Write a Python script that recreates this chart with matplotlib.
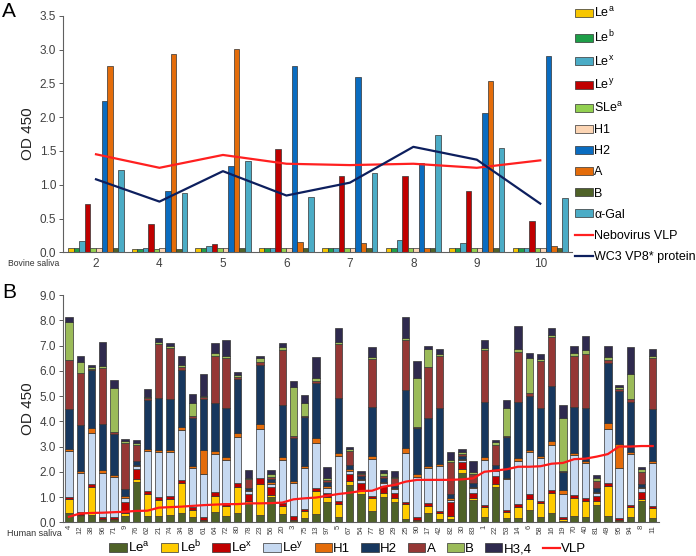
import matplotlib
matplotlib.use("Agg")
import matplotlib.pyplot as plt
import numpy as np

plt.rcParams['font.family'] = ['Liberation Sans', 'DejaVu Sans']
plt.rcParams['mathtext.default'] = 'regular'

# ---------------- Panel A data ----------------
bovine_samples = ['2', '4', '5', '6', '7', '8', '9', '10']
A_lea = [0.06, 0.05, 0.06, 0.07, 0.06, 0.06, 0.06, 0.06]
A_leb = [0.06, 0.05, 0.06, 0.06, 0.06, 0.06, 0.06, 0.06]
A_lex = [0.17, 0.07, 0.09, 0.07, 0.07, 0.18, 0.14, 0.06]
A_ley = [0.72, 0.42, 0.12, 1.53, 1.13, 1.13, 0.91, 0.47]
A_slea = [0.06, 0.05, 0.06, 0.07, 0.07, 0.06, 0.06, 0.06]
A_h1 = [0.07, 0.06, 0.07, 0.07, 0.07, 0.07, 0.07, 0.07]
A_h2 = [2.24, 0.91, 1.28, 2.76, 2.59, 1.32, 2.06, 2.91]
A_a = [2.75, 2.93, 3.01, 0.15, 0.14, 0.07, 2.53, 0.10]
A_b = [0.06, 0.05, 0.06, 0.06, 0.06, 0.06, 0.06, 0.06]
A_agal = [1.22, 0.87, 1.35, 0.82, 1.17, 1.74, 1.54, 0.81]
nebovirus_vlp = [1.45, 1.25, 1.44, 1.31, 1.29, 1.31, 1.25, 1.36]
wc3_vp8 = [1.08, 0.75, 1.20, 0.84, 1.03, 1.56, 1.37, 0.72]

A_names = [r'Le$^{a}$', r'Le$^{b}$', r'Le$^{x}$', r'Le$^{y}$', r'SLe$^{a}$',
           'H1', 'H2', 'A', 'B', 'α-Gal']

# ---------------- Panel B data ----------------
human_samples = ['4', '12', '38', '96', '71', '9', '76', '62', '21', '74', '34', '68',
                 '61', '64', '72', '80', '78', '23', '56', '20', '3', '75', '13', '97',
                 '5', '67', '54', '77', '65', '29', '25', '90', '17', '42', '82', '30',
                 '83', '1', '22', '53', '14', '6', '58', '16', '19', '70', '40', '81',
                 '49', '95', '94', '8', '11']
B_lea = [0.36, 0.25, 0.30, 0.08, 0.08, 0.25, 1.58, 0.25, 0.25, 0.28, 0.36, 0.20,
         0.05, 0.42, 0.25, 0.38, 0.75, 0.27, 1.00, 0.33, 0.05, 0.18, 0.32, 0.80,
         0.22, 1.48, 1.12, 0.45, 1.00, 0.80, 0.15, 0.04, 0.35, 0.12, 0.15, 1.95,
         0.87, 0.20, 1.40, 0.18, 0.18, 0.48, 0.22, 0.35, 0.06, 0.25, 0.22, 0.70,
         0.25, 0.04, 0.22, 0.84, 0.17]
B_leb = [0.55, 0.05, 1.10, 0.06, 0.04, 0.10, 0.12, 0.88, 0.65, 0.65, 1.18, 0.30,
         0.05, 0.64, 0.40, 1.03, 0.10, 1.25, 0.10, 0.32, 0.05, 0.26, 0.93, 0.20,
         0.50, 0.14, 0.14, 0.52, 0.15, 0.15, 0.58, 0.04, 0.30, 0.24, 0.10, 0.17,
         0.08, 0.39, 0.13, 0.22, 0.41, 0.43, 0.53, 0.80, 0.06, 0.71, 0.62, 0.13,
         1.19, 0.05, 0.37, 0.10, 0.41]
B_lex = [0.10, 0.12, 0.12, 0.08, 0.10, 0.45, 0.40, 0.10, 0.10, 0.12, 0.12, 0.10,
         0.10, 0.14, 0.10, 0.13, 0.28, 0.22, 0.30, 0.10, 0.14, 0.08, 0.10, 0.17,
         0.12, 0.30, 0.30, 0.08, 0.30, 0.20, 0.09, 0.14, 0.10, 0.10, 0.55, 0.25,
         0.22, 0.10, 0.30, 0.09, 0.12, 0.21, 0.09, 0.13, 0.08, 0.12, 0.11, 0.20,
         0.10, 0.10, 0.10, 0.24, 0.08]
B_ley = [1.80, 1.55, 2.00, 1.75, 1.56, 0.15, 0.12, 1.58, 1.78, 1.72, 2.00, 1.55,
         1.72, 1.52, 1.72, 1.82, 0.12, 1.95, 0.10, 1.72, 1.30, 1.64, 1.80, 0.18,
         1.80, 0.12, 0.10, 1.47, 0.10, 0.15, 1.94, 1.59, 1.39, 1.77, 0.10, 0.08,
         0.17, 1.78, 0.20, 1.21, 1.72, 1.65, 1.72, 1.78, 0.92, 1.57, 1.39, 0.12,
         2.14, 1.97, 2.01, 0.16, 1.68]
B_h1 = [0.10, 0.08, 0.20, 0.12, 0.10, 0.08, 0.06, 0.10, 0.10, 0.11, 0.10, 0.06,
        0.95, 0.10, 0.12, 0.16, 0.04, 0.20, 0.08, 0.13, 0.10, 0.07, 0.20, 0.08,
        0.10, 0.06, 0.06, 0.11, 0.05, 0.05, 0.20, 0.10, 0.09, 0.08, 0.06, 0.06,
        0.06, 0.13, 0.07, 0.04, 0.13, 0.09, 0.08, 0.16, 0.16, 0.11, 0.09, 0.05,
        0.26, 0.94, 0.10, 0.06, 0.09]
B_h2 = [1.58, 1.80, 2.30, 1.80, 1.62, 0.30, 0.14, 1.95, 2.05, 2.02, 2.28, 1.92,
        2.03, 1.90, 1.93, 2.14, 0.08, 2.35, 0.12, 2.04, 1.68, 1.93, 2.18, 0.15,
        2.20, 0.17, 0.10, 1.92, 0.15, 0.10, 2.28, 1.81, 1.89, 2.20, 0.16, 0.10,
        0.14, 2.15, 0.17, 1.62, 2.19, 2.14, 1.90, 2.19, 0.70, 1.82, 2.08, 0.14,
        2.38, 2.11, 1.98, 0.10, 2.04]
B_a = [1.94, 2.05, 0.04, 2.20, 0.06, 1.80, 0.65, 0.05, 2.13, 2.02, 0.12, 0.06,
       0.06, 1.88, 2.00, 0.08, 0.33, 0.10, 0.10, 2.18, 0.10, 0.05, 0.07, 0.10,
       2.12, 0.55, 0.08, 1.90, 0.10, 0.30, 1.96, 0.07, 2.04, 2.07, 1.25, 0.10,
       0.37, 2.07, 0.80, 0.06, 2.00, 0.13, 1.85, 1.91, 0.07, 2.00, 2.15, 0.31,
       0.10, 0.08, 0.09, 0.50, 2.02]
B_b = [1.49, 0.45, 0.07, 0.08, 1.74, 0.08, 0.07, 0.06, 0.08, 0.06, 0.08, 0.55,
       0.06, 0.12, 0.08, 0.08, 0.05, 0.15, 0.10, 0.11, 1.92, 0.53, 0.10, 0.08,
       0.09, 0.08, 0.05, 0.08, 0.12, 0.06, 0.08, 1.94, 0.70, 0.07, 0.10, 0.06,
       0.09, 0.09, 0.10, 1.12, 0.11, 1.39, 0.06, 0.09, 2.07, 0.11, 0.16, 0.09,
       0.11, 0.06, 0.99, 0.12, 0.09]
B_h34 = [0.20, 0.22, 0.10, 0.98, 0.32, 0.08, 0.10, 0.30, 0.16, 0.10, 0.33, 0.33,
         0.85, 0.36, 0.62, 0.12, 0.32, 0.11, 0.17, 0.18, 0.25, 0.30, 0.83, 0.42,
         0.55, 0.09, 0.08, 0.42, 0.10, 0.22, 0.86, 0.66, 0.13, 0.20, 0.33, 0.13,
         0.43, 0.31, 0.09, 0.30, 0.91, 0.17, 0.21, 0.29, 0.52, 0.29, 0.55, 0.13,
         0.45, 0.09, 1.09, 0.08, 0.27]
B_vlp = [0.22, 0.35, 0.37, 0.38, 0.40, 0.42, 0.45, 0.46, 0.58, 0.60, 0.62, 0.65,
         0.68, 0.70, 0.72, 0.72, 0.75, 0.75, 0.76, 0.78, 0.91, 0.95, 0.98, 1.05,
         1.12, 1.17, 1.24, 1.25, 1.41, 1.48, 1.61, 1.68, 1.68, 1.68, 1.68, 1.70,
         1.74, 2.00, 2.05, 2.10, 2.20, 2.20, 2.22, 2.32, 2.35, 2.50, 2.52, 2.60,
         2.70, 3.00, 3.00, 3.02, 3.02]

B_names = [r'Le$^{a}$', r'Le$^{b}$', r'Le$^{x}$', r'Le$^{y}$', 'H1', 'H2', 'A', 'B', 'H3,4']

# ---------------- styling ----------------
A_colors = ['#f7c600', '#1e9e48', '#4bacc6', '#c00000', '#92d050',
            '#fcd5b4', '#0a6cc0', '#e46c0a', '#4f6228', '#4bacc6']
B_colors = ['#4f6228', '#ffcc00', '#c00000', '#c6d9f1', '#e46c0a',
            '#17375e', '#953735', '#9bbb59', '#2f2a4e']
edge = '#333333'
tick_col = '#404040'
spine_col = '#606060'

fig = plt.figure(figsize=(6.96, 5.56), dpi=100)

def style_axes(ax):
    for s in ['top', 'right']:
        ax.spines[s].set_visible(False)
    for s in ['left', 'bottom']:
        ax.spines[s].set_color(spine_col)
        ax.spines[s].set_linewidth(0.8)
    ax.tick_params(axis='y', colors=tick_col, labelsize=8.5, length=3, width=0.6,
                   direction='out', pad=2)
    ax.tick_params(axis='x', length=0, colors=tick_col)

# ---------------- Panel A ----------------
axA = fig.add_axes([63/696, 1-252.3/556, 509/696, (252.3-15.7)/556])
xg = np.arange(len(bovine_samples))
A_series = [A_lea, A_leb, A_lex, A_ley, A_slea, A_h1, A_h2, A_a, A_b, A_agal]
w = 0.087
for i, (vals, col, nm) in enumerate(zip(A_series, A_colors, A_names)):
    axA.bar(xg + (i - 4.5) * w, vals, width=w, color=col, edgecolor=edge,
            linewidth=0.5, label=nm)
axA.plot(xg, nebovirus_vlp, color='#ff2020', lw=1.6, label='Nebovirus VLP')
axA.plot(xg, wc3_vp8, color='#0d1f5e', lw=1.6, label='WC3 VP8* protein')
axA.set_xlim(-0.52, 7.5)
axA.set_ylim(0, 3.5)
axA.set_yticks(np.arange(0, 3.51, 0.5))
axA.set_yticklabels([f'{v:.1f}' for v in np.arange(0, 3.51, 0.5)])
axA.set_xticks(xg)
axA.set_xticklabels(bovine_samples, fontsize=8.5)
style_axes(axA)
axA.tick_params(axis='x', pad=4)
axA.set_ylabel('OD 450', fontsize=11, color='#222222', labelpad=3)
fig.text(8/696, 1-264/556, 'Bovine saliva', fontsize=6.2, color='#333333',
         va='center', ha='left')
fig.text(2/696, 1-2/556, 'A', fontsize=15, va='top', ha='left')

hA, lA = axA.get_legend_handles_labels()
order = list(range(2, 12)) + [0, 1]
fig.legend([hA[k] for k in order], [lA[k] for k in order],
           loc='upper left', bbox_to_anchor=(575/696, 1-6/556),
           frameon=False, fontsize=9, handlelength=1.4, handleheight=0.6,
           handletextpad=0.15, labelspacing=0.73, borderaxespad=0,
           borderpad=0)

# ---------------- Panel B ----------------
axB = fig.add_axes([62.7/696, 1-522.3/556, (659-62.7)/696, (522.3-295)/556])
xb = np.arange(len(human_samples))
B_series = [B_lea, B_leb, B_lex, B_ley, B_h1, B_h2, B_a, B_b, B_h34]
bottom = np.zeros(len(human_samples))
for vals, col, nm in zip(B_series, B_colors, B_names):
    v = np.array(vals)
    axB.bar(xb, v, bottom=bottom, width=0.66, color=col, edgecolor=edge,
            linewidth=0.5, label=nm)
    bottom += v
axB.plot(xb, B_vlp, color='#ff1a1a', lw=1.6, label='VLP')
axB.set_xlim(-0.56, 52.56)
axB.set_ylim(0, 9.0)
axB.set_yticks(np.arange(0, 9.01, 1.0))
axB.set_yticklabels([f'{v:.1f}' for v in np.arange(0, 9.01, 1.0)])
axB.set_xticks(xb)
axB.set_xticklabels(human_samples, rotation=90, fontsize=5.5)
style_axes(axB)
axB.tick_params(axis='x', pad=2)
axB.set_ylabel('OD 450', fontsize=11, color='#222222', labelpad=3)
fig.text(7/696, 1-533/556, 'Human saliva', fontsize=6.5, color='#333333',
         va='center', ha='left')
fig.text(2/696, 1-283/556, 'B', fontsize=15, va='top', ha='left')

hB, lB = axB.get_legend_handles_labels()
orderB = list(range(1, 10)) + [0]
fig.legend([hB[k] for k in orderB], [lB[k] for k in orderB],
           loc='center', bbox_to_anchor=(348/696, 1-547/556), ncol=10,
           frameon=False, fontsize=9.5, handlelength=1.3, handleheight=0.6,
           handletextpad=0.1, columnspacing=0.85, borderaxespad=0, borderpad=0)

fig.savefig('out.png', dpi=100)
